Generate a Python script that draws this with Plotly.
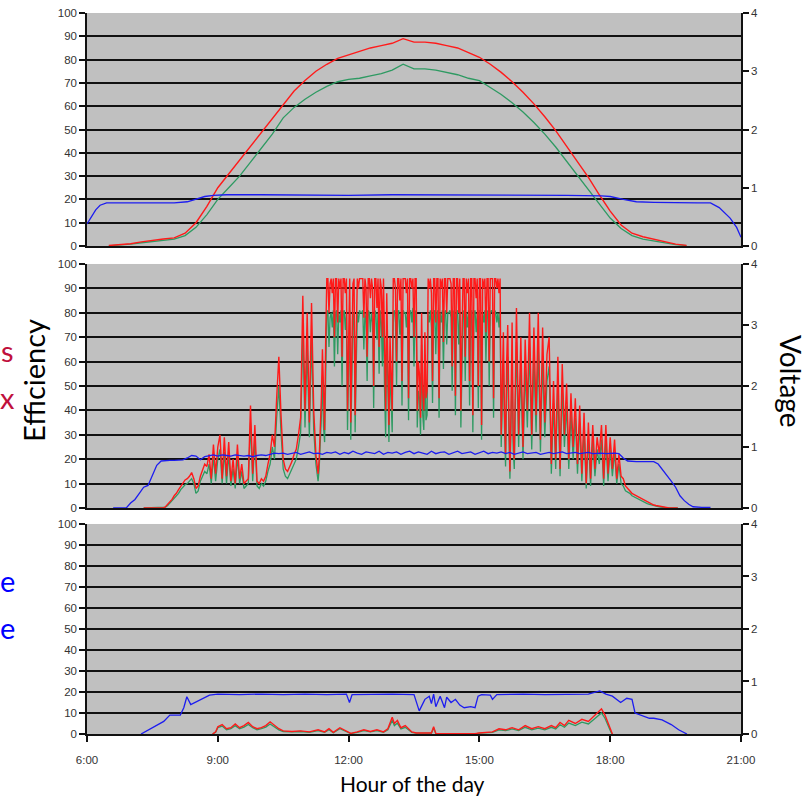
import numpy as np
import plotly.graph_objects as go
from plotly.subplots import make_subplots

# ---------------- Panel 1 (clear day) ----------------
p1_start, p1_step = 6.5, 0.25
red1 = [0.2, 0.5, 1, 1.8, 2.5, 3, 3.5, 5.5, 10, 17,
        25, 31, 37, 43, 49, 55, 61, 66.5, 71, 75,
        78, 80.5, 82, 83.5, 85, 86, 87, 89, 87.5, 87.5,
        87, 86, 85, 83, 81, 78, 74.5, 70.5, 66, 61,
        55.5, 49.5, 43, 36.5, 29.5, 22, 15, 9, 5.5, 4,
        3, 1.8, 0.8, 0.3]
green1 = [0.1, 0.3, 0.8, 1.4, 2, 2.5, 3, 4.5, 8, 13.5,
          20, 25, 30, 36, 42, 48, 55, 59.5, 63, 66,
          68.5, 70.5, 71.5, 72, 73, 74, 75.5, 78, 76, 76,
          75.5, 74.5, 73.5, 72, 71, 68, 65, 61.5, 57.5, 53,
          48, 42.5, 36.5, 30.5, 24.5, 18, 12, 7.5, 4.5, 3,
          2.2, 1.3, 0.6, 0.2]
blue1_t = [6.0, 6.1, 6.2, 6.3, 6.45, 7.0, 7.5, 8.0, 8.3, 8.5, 8.7, 8.9, 9.2, 10, 11, 12,
           13, 13.5, 14, 15, 16, 17, 17.8, 18.0, 18.3, 18.6, 19, 19.5, 20.0, 20.3,
           20.5, 20.75, 20.9, 21.0]
blue1 = [0.38, 0.5, 0.62, 0.7, 0.74, 0.74, 0.74, 0.74, 0.76, 0.8, 0.85, 0.87, 0.88, 0.88, 0.87, 0.87,
         0.88, 0.88, 0.87, 0.88, 0.87, 0.87, 0.86, 0.85, 0.8, 0.76, 0.75, 0.74, 0.74, 0.74,
         0.66, 0.48, 0.32, 0.15]

# ---------------- Panel 2 (cloudy, spiky) ----------------
# morning segment: 7:18 .. 11:15, every 3 min
red2_a = [0, 0, 0, 0, 0, 0, 0, 0, 0, 0,
          0.5, 1.5, 2.5, 3.5, 5, 6, 7.5, 9, 10.5, 11.5,
          12, 13, 14.5, 12, 8, 9, 13, 16, 18, 17,
          22, 12, 26, 14, 25, 30, 12, 29, 13, 27,
          11, 20, 10, 26, 12, 18, 10, 11, 12, 42,
          14, 34, 11, 10, 12, 11, 13, 18, 22, 30,
          25, 45, 62, 38, 20, 16, 15, 17, 19, 22,
          24, 30, 37, 87, 40, 80, 35, 84, 40, 22]
green2_a = [0, 0, 0, 0, 0, 0, 0, 0, 0, 0,
            0.3, 1, 2, 3, 4, 5, 6, 7.5, 8.5, 9.5,
            10, 11, 12, 10, 6, 7, 11, 13, 15, 14,
            18, 10, 21, 11, 20, 24, 10, 23, 10, 22,
            9, 16, 8, 21, 10, 15, 8, 9, 10, 35,
            11, 28, 9, 8, 10, 9, 11, 15, 18, 25,
            20, 37, 50, 31, 16, 13, 12, 14, 16, 18,
            20, 25, 31, 72, 33, 66, 29, 70, 32, 18]
# midday segment: 11:18 .. 15:46.5, every 1.5 min
red2_b = [14, 20, 30, 45, 65, 40, 32, 70, 94, 94, 80, 92, 94, 88, 94, 70, 94, 94, 76, 94,
          90, 94, 62, 94, 94, 88, 94, 40, 80, 94, 35, 60, 92, 94, 38, 70, 94, 90, 94, 94,
          94, 94, 78, 94, 90, 62, 94, 94, 86, 94, 90, 50, 94, 94, 82, 94, 66, 94, 90, 70,
          94, 60, 40, 88, 60, 34, 70, 48, 40, 94, 94, 90, 60, 94, 94, 85, 94, 52, 94, 94,
          94, 88, 94, 45, 94, 94, 90, 94, 70, 94, 94, 40, 60, 55, 37, 80, 48, 40, 72, 45,
          48, 94, 90, 94, 88, 52, 94, 94, 76, 94, 94, 45, 94, 90, 94, 68, 94, 94, 80, 94,
          94, 94, 92, 58, 94, 94, 46, 94, 94, 80, 94, 40, 70, 94, 94, 62, 94, 88, 94, 52,
          94, 94, 38, 94, 94, 86, 94, 50, 94, 94, 34, 94, 90, 94, 72, 94, 94, 60, 94, 94,
          94, 45, 94, 94, 90, 94, 88, 94, 30, 50, 72, 40, 22, 60, 75, 40, 15, 40, 76, 30]
green2_b = [11, 16, 25, 37, 54, 33, 27, 58, 80, 81, 66, 78, 80, 74, 81, 58, 80, 81, 63, 80,
            76, 81, 50, 80, 81, 73, 80, 32, 66, 81, 28, 48, 78, 80, 31, 58, 80, 76, 81, 80,
            80, 81, 65, 80, 76, 52, 81, 80, 72, 80, 76, 41, 81, 80, 69, 80, 55, 81, 76, 58,
            81, 48, 29, 74, 48, 27, 58, 38, 31, 80, 81, 76, 50, 80, 81, 71, 80, 42, 81, 80,
            80, 74, 81, 36, 80, 81, 76, 82, 58, 80, 81, 33, 48, 45, 30, 67, 38, 32, 60, 36,
            38, 80, 76, 81, 74, 43, 80, 81, 63, 80, 81, 37, 80, 76, 81, 57, 80, 81, 67, 80,
            80, 81, 78, 48, 80, 81, 38, 80, 81, 67, 80, 33, 58, 80, 81, 52, 80, 74, 81, 42,
            80, 81, 31, 80, 81, 72, 80, 41, 81, 80, 28, 80, 76, 81, 60, 80, 81, 50, 80, 81,
            80, 37, 81, 80, 76, 80, 74, 80, 25, 41, 60, 33, 17, 48, 62, 33, 12, 33, 63, 24]
# afternoon segment: 15:48 .. 19:33, every 3 min
red2_c = [20, 82, 30, 70, 25, 69, 40, 80, 30, 74,
          38, 80, 28, 74, 35, 63, 70, 18, 52, 20,
          62, 16, 59, 30, 51, 20, 47, 25, 45, 18,
          42, 14, 39, 10, 35, 12, 34, 16, 29, 22,
          34, 12, 34, 14, 29, 16, 28, 12, 22, 13,
          12, 9, 8, 7, 6, 5.5, 5, 4.5, 4, 3.5,
          3, 2.5, 2, 1.5, 1.2, 1, 0.8, 0.5, 0.3, 0.2,
          0.1, 0, 0, 0, 0, 0]
green2_c = [16, 68, 25, 58, 20, 57, 33, 66, 24, 61,
            31, 66, 23, 61, 29, 52, 58, 14, 43, 16,
            51, 13, 49, 25, 42, 16, 39, 20, 37, 14,
            35, 11, 32, 8, 29, 9, 28, 13, 24, 18,
            28, 9, 28, 11, 24, 13, 23, 10, 18, 10,
            9, 7, 6.5, 6, 5, 4.5, 4, 3.5, 3, 2.6,
            2.2, 1.8, 1.5, 1.2, 1, 0.8, 0.6, 0.4, 0.2, 0.1,
            0, 0, 0, 0, 0, 0]
seg_starts = [7.30, 11.30, 15.80]
seg_steps = [0.05, 0.025, 0.05]

b2_start, b2_step = 6.6, 0.1
blue2 = [0, 0, 0, 0, 0.08, 0.14, 0.24, 0.34, 0.37, 0.53,
         0.7, 0.77, 0.78, 0.78, 0.78, 0.78, 0.79, 0.82, 0.86, 0.85,
         0.79, 0.84, 0.86, 0.87, 0.85, 0.87, 0.86, 0.85, 0.87, 0.86,
         0.85, 0.86, 0.84, 0.86, 0.87, 0.86, 0.88, 0.9, 0.89, 0.9,
         0.88, 0.89, 0.91, 0.88, 0.9, 0.92, 0.89, 0.9, 0.88, 0.91,
         0.9, 0.92, 0.88, 0.91, 0.89, 0.93, 0.9, 0.88, 0.92, 0.9,
         0.89, 0.93, 0.88, 0.91, 0.9, 0.92, 0.88, 0.91, 0.93, 0.89,
         0.92, 0.9, 0.88, 0.93, 0.89, 0.91, 0.92, 0.88, 0.9, 0.93,
         0.89, 0.91, 0.92, 0.88, 0.9, 0.93, 0.89, 0.91, 0.9, 0.92,
         0.89, 0.91, 0.88, 0.9, 0.92, 0.89, 0.9, 0.91, 0.88, 0.9,
         0.91, 0.89, 0.9, 0.92, 0.89, 0.9, 0.91, 0.89, 0.9, 0.91,
         0.89, 0.9, 0.9, 0.89, 0.9, 0.9, 0.89, 0.82, 0.77, 0.76,
         0.76, 0.76, 0.76, 0.76, 0.76, 0.72, 0.63, 0.54, 0.44, 0.34,
         0.2, 0.12, 0.06, 0.02, 0.01, 0.01, 0.01, 0.01]

# ---------------- Panel 3 (overcast) ----------------
blue3_t = [7.24, 7.48, 7.76, 7.9, 8.14, 8.22, 8.29, 8.38, 8.52, 8.81,
           9.0, 9.5, 10.0, 10.5, 11.0, 11.5, 11.95, 12.02, 12.08, 12.5,
           13.0, 13.5, 13.62, 13.75, 13.85, 13.9, 13.95, 14.0, 14.1, 14.2,
           14.25, 14.35, 14.45, 14.55, 14.65, 14.8, 14.9, 14.97, 15.05, 15.25,
           15.3, 15.4, 16.0, 16.5, 17.0, 17.5, 17.76, 17.9, 18.05, 18.24,
           18.38, 18.5, 18.57, 18.71, 18.9, 19.0, 19.19, 19.4, 19.57, 19.76]
blue3 = [0, 0.11, 0.24, 0.36, 0.36, 0.5, 0.71, 0.56, 0.62, 0.74,
         0.76, 0.75, 0.76, 0.75, 0.76, 0.75, 0.76, 0.6, 0.75, 0.76,
         0.76, 0.75, 0.44, 0.66, 0.72, 0.58, 0.76, 0.52, 0.72, 0.5,
         0.7, 0.6, 0.66, 0.55, 0.5, 0.52, 0.5, 0.72, 0.75, 0.74,
         0.66, 0.75, 0.76, 0.75, 0.76, 0.76, 0.82, 0.76, 0.72, 0.6,
         0.68, 0.66, 0.4, 0.36, 0.3, 0.3, 0.27, 0.18, 0.08, 0]
eff3_t = [8.88, 8.95, 9.0, 9.1, 9.2, 9.3, 9.4, 9.5, 9.6, 9.7,
          9.8, 9.9, 10.0, 10.1, 10.2, 10.3, 10.4, 10.5, 10.7, 10.9,
          11.1, 11.3, 11.45, 11.55, 11.65, 11.8, 11.9, 12.0, 12.05, 12.2,
          12.35, 12.5, 12.65, 12.8, 12.9, 13.0, 13.05, 13.12, 13.2, 13.3,
          13.45, 13.55, 13.9, 13.95, 14.0, 14.9, 15.0, 15.3, 15.45, 15.6,
          15.75, 15.9, 16.05, 16.2, 16.35, 16.5, 16.65, 16.75, 16.85, 16.95,
          17.05, 17.2, 17.35, 17.5, 17.6, 17.72, 17.8, 17.88, 17.95, 18.02,
          18.05]
red3 = [0, 1, 3.5, 4.5, 2.5, 3, 4.8, 3, 4, 5.5,
        3.5, 2.5, 3, 4, 5.8, 4, 2.5, 1.5, 1.2, 1.5,
        1, 2, 1, 2.5, 0.8, 3, 2, 1, 0.3, 1,
        2, 1.2, 2, 1, 2.5, 8, 5, 6.5, 3, 4,
        1, 0.5, 0.5, 3.5, 0.3, 0.2, 0.5, 1, 2.5, 2,
        3, 2, 4, 2.5, 3.5, 2.5, 4, 3, 5.5, 4,
        6.5, 5, 7, 6, 8, 10, 12, 9, 5, 1,
        0]
green3 = [0, 0.8, 3, 3.8, 2, 2.5, 4, 2.5, 3.3, 4.5,
          3, 2, 2.5, 3.3, 4.8, 3.3, 2, 1.2, 1, 1.2,
          0.8, 1.6, 0.8, 2, 0.6, 2.5, 1.6, 0.8, 0.2, 0.8,
          1.6, 1, 1.6, 0.8, 2, 6.5, 4, 5.2, 2.4, 3.2,
          0.8, 0.4, 0.4, 2.8, 0.2, 0.1, 0.4, 0.8, 2, 1.6,
          2.4, 1.6, 3.2, 2, 2.8, 2, 3.2, 2.4, 4.4, 3.2,
          5.2, 4, 5.6, 4.8, 6.5, 8.5, 10, 7.5, 4, 0.8,
          0]

x_ticks = [6, 9, 12, 15, 18, 21]
x_labels = ["6:00", "9:00", "12:00", "15:00", "18:00", "21:00"]
eff_ticks = list(range(0, 101, 10))
eff_grid = list(range(10, 100, 10))
volt_ticks = [0, 1, 2, 3, 4]

RED = "#ff1a1a"
GREEN = "#2e9a62"
BLUE = "#1c1cf0"


def grid(start, step, n):
    return np.round(start + step * np.arange(n), 4)


def seg_time(parts):
    return np.concatenate([grid(s, d, len(p)) for s, d, p in zip(seg_starts, seg_steps, parts)])


t2_red = seg_time([red2_a, red2_b, red2_c])
t2_green = seg_time([green2_a, green2_b, green2_c])
red2 = red2_a + red2_b + red2_c
green2 = green2_a + green2_b + green2_c

fig = make_subplots(rows=3, cols=1, specs=[[{"secondary_y": True}]] * 3)

panels = [
    (grid(p1_start, p1_step, len(green1)), green1, grid(p1_start, p1_step, len(red1)), red1, blue1_t, blue1),
    (t2_green, green2, t2_red, red2, grid(b2_start, b2_step, len(blue2)), blue2),
    (eff3_t, green3, eff3_t, red3, blue3_t, blue3),
]
for i, (tg, g, tr, r, tb, b) in enumerate(panels, start=1):
    fig.add_trace(go.Scatter(x=tg, y=g, mode="lines", line=dict(color=GREEN, width=1.3),
                             showlegend=False), row=i, col=1, secondary_y=False)
    fig.add_trace(go.Scatter(x=tr, y=r, mode="lines", line=dict(color=RED, width=1.4),
                             showlegend=False), row=i, col=1, secondary_y=False)
    fig.add_trace(go.Scatter(x=tb, y=b, mode="lines", line=dict(color=BLUE, width=1.3),
                             showlegend=False), row=i, col=1, secondary_y=True)

tickfont = dict(family="Liberation Sans, Arial", size=11.5, color="#333333")
domains = {1: [0.6768, 1.0], 2: [0.3135, 0.6519], 3: [0.0, 0.2913]}
for i in (1, 2, 3):
    fig.update_yaxes(row=i, col=1, secondary_y=False, domain=domains[i], range=[0, 100],
                     tickvals=eff_ticks, showgrid=False,
                     minor=dict(tickvals=eff_grid, showgrid=True, gridcolor="#111111",
                                gridwidth=1.6, ticks=""),
                     zeroline=False, showline=True, linecolor="#111111", linewidth=1.5,
                     ticks="outside", ticklen=6, tickcolor="#111111", tickwidth=1.5,
                     tickfont=tickfont, fixedrange=True)
    fig.update_yaxes(row=i, col=1, secondary_y=True, range=[0, 4], tickvals=volt_ticks,
                     showgrid=False, zeroline=False, showline=True, linecolor="#111111",
                     linewidth=1.5, ticks="outside", ticklen=6, tickcolor="#111111",
                     tickwidth=1.5, tickfont=tickfont)
    fig.update_xaxes(row=i, col=1, domain=[0, 1], range=[6, 21], tickvals=x_ticks,
                     ticktext=x_labels, showgrid=False, zeroline=False, showline=True,
                     linecolor="#111111", linewidth=1.5, showticklabels=(i == 3),
                     ticks="outside" if i == 3 else "", ticklen=6, tickcolor="#111111",
                     tickwidth=1.5, tickfont=tickfont, ticklabelstandoff=8)

W, H = 807, 797
ML, MR, MT, MB = 87, 66, 13, 63
pw, ph = W - ML - MR, H - MT - MB


def px(x):
    return (x - ML) / pw


def py(y):
    return (H - MB - y) / ph


ann_font = "Lato, Open Sans, sans-serif"
annotations = [
    dict(text="s", x=px(7), y=py(350), font=dict(family=ann_font, size=29, color="#c0103c")),
    dict(text="x", x=px(7), y=py(397), font=dict(family=ann_font, size=29, color="#c0103c")),
    dict(text="Efficiency", x=px(33), y=py(381), textangle=-90,
         font=dict(family=ann_font, size=29, color="#000000")),
    dict(text="e", x=px(7), y=py(580), font=dict(family=ann_font, size=29, color="#0000ff")),
    dict(text="e", x=px(7), y=py(627), font=dict(family=ann_font, size=29, color="#0000ff")),
    dict(text="Voltage", x=px(791), y=py(381), textangle=90,
         font=dict(family=ann_font, size=28, color="#000000")),
    dict(text="Hour of the day", x=px(412), y=py(783),
         font=dict(family=ann_font, size=21, color="#000000")),
]
for a in annotations:
    a.update(xref="paper", yref="paper", showarrow=False, xanchor="center", yanchor="middle")

fig.update_layout(width=W, height=H, margin=dict(l=ML, r=MR, t=MT, b=MB, autoexpand=False),
                  plot_bgcolor="#c0c0c0", paper_bgcolor="#ffffff", annotations=annotations,
                  showlegend=False)

fig.write_html("out.html", config={"displayModeBar": False},
               post_script="document.body.style.margin='0px';")
